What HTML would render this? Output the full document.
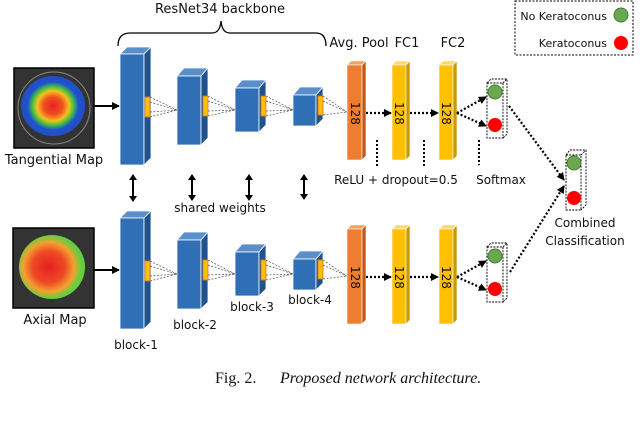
<!DOCTYPE html>
<html><head><meta charset="utf-8"><style>
html,body{margin:0;padding:0;background:#fff}
svg{display:block}
text{font-family:"DejaVu Sans","Liberation Sans",sans-serif;fill:#111}
</style></head><body>
<svg width="640" height="421" viewBox="0 0 640 421" xmlns="http://www.w3.org/2000/svg">
<defs>
<marker id="ah" markerWidth="8" markerHeight="8" refX="7" refY="4" orient="auto" markerUnits="userSpaceOnUse"><path d="M0,0 L8,4 L0,8z" fill="#000"/></marker>
<radialGradient id="tg" cx="50%" cy="50%" r="50%">
<stop offset="0" stop-color="#e62020"/><stop offset="0.3" stop-color="#f05020"/><stop offset="0.5" stop-color="#f5c020"/><stop offset="0.65" stop-color="#40c040"/><stop offset="0.8" stop-color="#2050d0"/><stop offset="1" stop-color="#2050c0"/></radialGradient>
<radialGradient id="ag" cx="45%" cy="50%" r="55%">
<stop offset="0" stop-color="#e62020"/><stop offset="0.45" stop-color="#ee4a25"/><stop offset="0.7" stop-color="#f3a030"/><stop offset="0.9" stop-color="#60d040"/><stop offset="1" stop-color="#60d040"/></radialGradient>
</defs>

<text x="220" y="13" font-size="13" text-anchor="middle">ResNet34 backbone</text>
<path d="M118,46 Q118,33 130,33 L212,33 Q220,33 221,21 Q222,33 230,33 L316,33 Q326,33 326,46" fill="none" stroke="#000" stroke-width="1.3"/>

<text x="359" y="47" font-size="13" text-anchor="middle">Avg. Pool</text>
<text x="407" y="47" font-size="13" text-anchor="middle">FC1</text>
<text x="453" y="47" font-size="13" text-anchor="middle">FC2</text>

<rect x="515" y="1" width="118" height="54" fill="none" stroke="#000" stroke-dasharray="2,1.5"/>
<text x="607" y="20" font-size="11" text-anchor="end">No Keratoconus</text>
<circle cx="621" cy="15" r="7" fill="#6aa84f" stroke="#4a7a35"/>
<text x="607" y="47" font-size="11" text-anchor="end">Keratoconus</text>
<circle cx="621" cy="43" r="7" fill="#ff0000"/>

<g>
<rect x="14" y="68" width="80" height="80" fill="#333" stroke="#000" stroke-width="1.5"/>
<circle cx="54" cy="108" r="36" fill="none" stroke="#888" stroke-width="1"/>
<ellipse cx="53" cy="106" rx="32" ry="30" fill="url(#tg)"/>
<rect x="13" y="228" width="81" height="80" fill="#333" stroke="#000" stroke-width="1.5"/>
<ellipse cx="52" cy="267" rx="33" ry="32" fill="url(#ag)"/>
</g>
<text x="54" y="164" font-size="13" text-anchor="middle">Tangential Map</text>
<text x="55" y="324" font-size="13" text-anchor="middle">Axial Map</text>

<line x1="94" y1="106" x2="119" y2="106" stroke="#000" stroke-width="2" marker-end="url(#ah)"/>
<line x1="94" y1="270" x2="119" y2="270" stroke="#000" stroke-width="2" marker-end="url(#ah)"/>

<g stroke="#fff" stroke-width="0.8">
<polygon points="120,54 127,47 151,47 144,54" fill="#5b8fcc"/><rect x="120" y="54" width="24" height="111" fill="#2e6fb5"/><polygon points="144,54 151,47 151,158 144,165" fill="#1f5390"/>
<polygon points="177,76 184,68 208,68 201,76" fill="#5b8fcc"/><rect x="177" y="76" width="24" height="69" fill="#2e6fb5"/><polygon points="201,76 208,68 208,138 201,145" fill="#1f5390"/>
<polygon points="235,88 242,80 266,80 259,88" fill="#5b8fcc"/><rect x="235" y="88" width="24" height="44" fill="#2e6fb5"/><polygon points="259,88 266,80 266,125 259,132" fill="#1f5390"/>
<polygon points="293,95 300,87 323,87 316,95" fill="#5b8fcc"/><rect x="293" y="95" width="23" height="31" fill="#2e6fb5"/><polygon points="316,95 323,87 323,119 316,126" fill="#1f5390"/>
<polygon points="120,218 127,211 151,211 144,218" fill="#5b8fcc"/><rect x="120" y="218" width="24" height="111" fill="#2e6fb5"/><polygon points="144,218 151,211 151,322 144,329" fill="#1f5390"/>
<polygon points="177,240 184,232 208,232 201,240" fill="#5b8fcc"/><rect x="177" y="240" width="24" height="69" fill="#2e6fb5"/><polygon points="201,240 208,232 208,302 201,309" fill="#1f5390"/>
<polygon points="235,252 242,244 266,244 259,252" fill="#5b8fcc"/><rect x="235" y="252" width="24" height="44" fill="#2e6fb5"/><polygon points="259,252 266,244 266,289 259,296" fill="#1f5390"/>
<polygon points="293,259 300,251 323,251 316,259" fill="#5b8fcc"/><rect x="293" y="259" width="23" height="31" fill="#2e6fb5"/><polygon points="316,259 323,251 323,283 316,290" fill="#1f5390"/>
</g>
<g fill="#ffc000" stroke="#e07020" stroke-width="0.8">
<rect x="145" y="97" width="5" height="20"/><rect x="203" y="96" width="5" height="20"/><rect x="261" y="96" width="5" height="20"/><rect x="318" y="96" width="5" height="19"/>
<rect x="145" y="261" width="5" height="20"/><rect x="203" y="260" width="5" height="20"/><rect x="261" y="260" width="5" height="20"/><rect x="318" y="260" width="5" height="19"/>
</g>
<g stroke="#555" stroke-width="0.7" stroke-dasharray="2,1.5" fill="none">
<path d="M150,97 L177,110 M150,117 L177,110 M150,102 L177,110 M150,112 L177,110"/>
<path d="M208,96 L235,110 M208,116 L235,110 M208,101 L235,110 M208,111 L235,110"/>
<path d="M266,96 L293,110 M266,116 L293,110 M266,101 L293,110 M266,111 L293,110"/>
<path d="M323,96 L347,112 M323,115 L347,112 M323,101 L347,112"/>
<path d="M150,261 L177,274 M150,281 L177,274 M150,266 L177,274 M150,276 L177,274"/>
<path d="M208,260 L235,274 M208,280 L235,274 M208,265 L235,274 M208,275 L235,274"/>
<path d="M266,260 L293,274 M266,280 L293,274 M266,265 L293,274 M266,275 L293,274"/>
<path d="M323,260 L347,276 M323,279 L347,276 M323,265 L347,276"/>
</g>

<g stroke="#fff" stroke-width="0.6">
<polygon points="347,65 351,61 366,61 362,65" fill="#f4a060"/><rect x="347" y="65" width="15" height="95" fill="#ed7d31"/><polygon points="362,65 366,61 366,156 362,160" fill="#c05a18"/>
<polygon points="392,65 396,61 410,61 406,65" fill="#ffd966"/><rect x="392" y="65" width="14" height="95" fill="#ffc000"/><polygon points="406,65 410,61 410,156 406,160" fill="#c99a00"/>
<polygon points="439,65 443,61 457,61 453,65" fill="#ffd966"/><rect x="439" y="65" width="14" height="95" fill="#ffc000"/><polygon points="453,65 457,61 457,156 453,160" fill="#c99a00"/>
<polygon points="347,229 351,225 366,225 362,229" fill="#f4a060"/><rect x="347" y="229" width="15" height="95" fill="#ed7d31"/><polygon points="362,229 366,225 366,320 362,324" fill="#c05a18"/>
<polygon points="392,229 396,225 410,225 406,229" fill="#ffd966"/><rect x="392" y="229" width="14" height="95" fill="#ffc000"/><polygon points="406,229 410,225 410,320 406,324" fill="#c99a00"/>
<polygon points="439,229 443,225 457,225 453,229" fill="#ffd966"/><rect x="439" y="229" width="14" height="95" fill="#ffc000"/><polygon points="453,229 457,225 457,320 453,324" fill="#c99a00"/>
</g>
<g font-size="12">
<text transform="translate(351,102) rotate(90)">128</text>
<text transform="translate(395,102) rotate(90)">128</text>
<text transform="translate(442,102) rotate(90)">128</text>
<text transform="translate(351,266) rotate(90)">128</text>
<text transform="translate(395,266) rotate(90)">128</text>
<text transform="translate(442,266) rotate(90)">128</text>
</g>

<g stroke="#000" stroke-width="2.2" stroke-dasharray="2,2" fill="none" marker-end="url(#ah)">
<line x1="366" y1="113" x2="391" y2="113"/><line x1="410" y1="113" x2="438" y2="113"/>
<line x1="457" y1="113" x2="486" y2="97"/><line x1="457" y1="113" x2="486" y2="126"/>
<line x1="366" y1="277" x2="391" y2="277"/><line x1="410" y1="277" x2="438" y2="277"/>
<line x1="457" y1="277" x2="486" y2="261"/><line x1="457" y1="277" x2="486" y2="290"/>
<line x1="509" y1="106" x2="564" y2="180"/><line x1="510" y1="272" x2="564" y2="186"/>
</g>
<g stroke="#000" stroke-width="2" stroke-dasharray="2,2">
<line x1="377" y1="140" x2="377" y2="168"/><line x1="424" y1="140" x2="424" y2="168"/><line x1="479" y1="140" x2="479" y2="165"/>
</g>
<text x="396" y="184" font-size="12" text-anchor="middle">ReLU + dropout=0.5</text>
<text x="501" y="184" font-size="12" text-anchor="middle">Softmax</text>

<g fill="none" stroke="#000" stroke-width="0.9" stroke-dasharray="2,1.2">
<rect x="487" y="83" width="16" height="55"/><path d="M487,83 L491,79 L507,79 L507,134 L503,138 M503,83 L507,79"/>
<rect x="487" y="247" width="16" height="55"/><path d="M487,247 L491,243 L507,243 L507,298 L503,302 M503,247 L507,243"/>
<rect x="566" y="155" width="15" height="55"/><path d="M566,155 L570,150 L586,150 L586,205 L581,210 M581,155 L586,150"/>
</g>
<circle cx="495" cy="92" r="7" fill="#6aa84f" stroke="#4a7a35"/><circle cx="495" cy="125" r="7" fill="#ff0000"/>
<circle cx="495" cy="256" r="7" fill="#6aa84f" stroke="#4a7a35"/><circle cx="495" cy="289" r="7" fill="#ff0000"/>
<circle cx="574" cy="163" r="7" fill="#6aa84f" stroke="#4a7a35"/><circle cx="574" cy="198" r="7" fill="#ff0000"/>
<text x="585" y="227" font-size="12" text-anchor="middle">Combined</text>
<text x="585" y="245" font-size="12" text-anchor="middle">Classification</text>

<g fill="#000">
<path d="M133,174 l-4,6 h8z M133,202 l-4,-6 h8z"/><rect x="132" y="179" width="2" height="18"/>
<path d="M192,174 l-4,6 h8z M192,201 l-4,-6 h8z"/><rect x="191" y="179" width="2" height="17"/>
<path d="M249,174 l-4,6 h8z M249,201 l-4,-6 h8z"/><rect x="248" y="179" width="2" height="17"/>
<path d="M304,174 l-4,6 h8z M304,200 l-4,-6 h8z"/><rect x="303" y="179" width="2" height="16"/>
</g>
<text x="220" y="212" font-size="12" text-anchor="middle">shared weights</text>

<text x="136" y="349" font-size="12" text-anchor="middle">block-1</text>
<text x="195" y="329" font-size="12" text-anchor="middle">block-2</text>
<text x="252" y="311" font-size="12" text-anchor="middle">block-3</text>
<text x="310" y="304" font-size="12" text-anchor="middle">block-4</text>

<text x="215" y="383" font-size="16" style="font-family:'Liberation Serif',serif">Fig. 2.</text>
<text x="280" y="383" font-size="16" font-style="italic" style="font-family:'Liberation Serif',serif">Proposed network architecture.</text>
</svg>
</body></html>
